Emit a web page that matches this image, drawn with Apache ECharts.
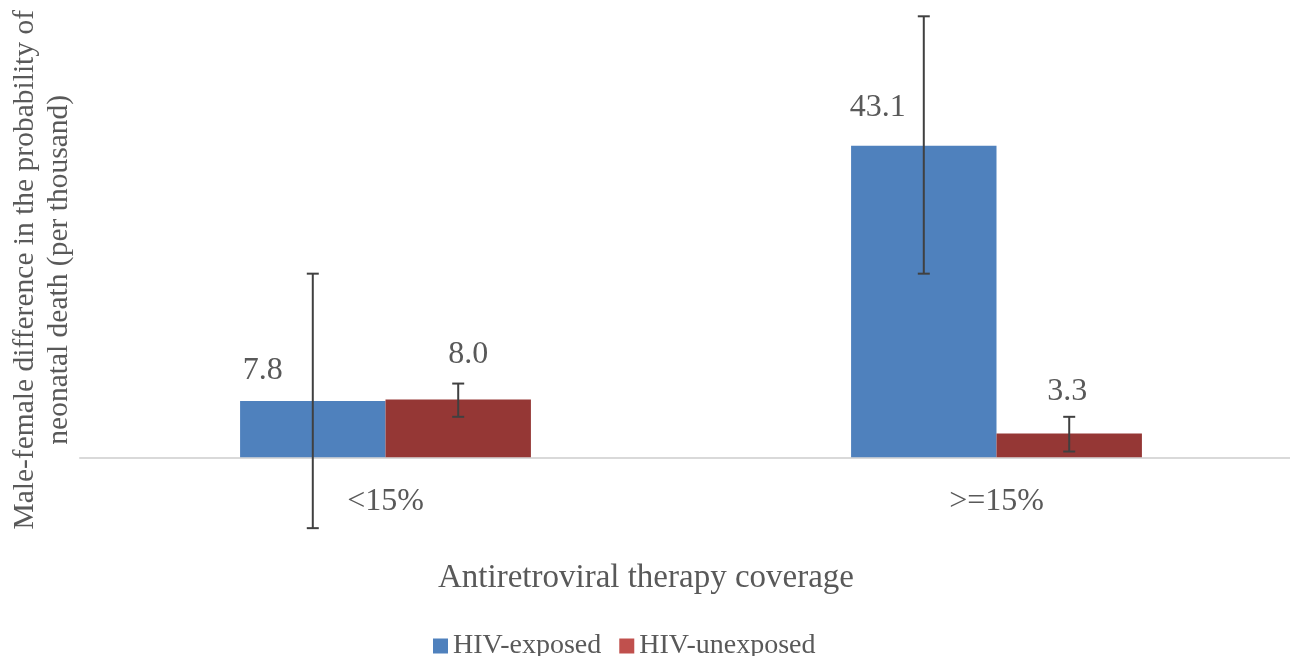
<!DOCTYPE html>
<html>
<head>
<meta charset="utf-8">
<script src="https://cdn.jsdelivr.net/npm/echarts@6/dist/echarts.min.js"></script>
<style>
html,body{margin:0;padding:0;background:#fff;}
#chart{width:1290px;height:656px;}
</style>
</head>
<body>
<div id="chart"></div>
<script>
const categories = ['<15%', '>=15%'];
const seriesNames = ['HIV-exposed', 'HIV-unexposed'];
const exposed = [7.8, 43.1];
const unexposed = [8.0, 3.3];
const exposedLow = [-9.8, 25.4];
const exposedHigh = [25.4, 61.0];
const unexposedLow = [5.6, 0.8];
const unexposedHigh = [10.2, 5.6];

// label style offsets (presentation only)
const exposedLabelOffset = [[-50, -9], [-46, -17]];
const unexposedLabelOffset = [[10, -24], [-2, -21]];

const FONT = '"Liberation Serif", "Times New Roman", serif';
const TXT = '#595959';
const GAP = 0.524;

const chart = echarts.init(document.getElementById('chart'), null, {renderer: 'canvas'});

const errData = [];
categories.forEach((c, i) => {
  errData.push([i, exposedLow[i], exposedHigh[i], 0]);
  errData.push([i, unexposedLow[i], unexposedHigh[i], 1]);
});

function renderErr(params, api) {
  const cat = api.value(0);
  const lo = api.value(1);
  const hi = api.value(2);
  const which = api.value(3);
  const band = api.size([1, 0])[0];
  const barW = band * (1 - GAP) / 2;
  const center = api.coord([cat, 0])[0];
  const x = which === 0 ? center - barW / 2 : center + barW / 2;
  const yLo = api.coord([cat, lo])[1];
  const yHi = api.coord([cat, hi])[1];
  const cap = 6;
  const style = {stroke: '#404040', lineWidth: 2};
  return {
    type: 'group',
    children: [
      {type: 'line', shape: {x1: x, y1: yLo, x2: x, y2: yHi}, style: style},
      {type: 'line', shape: {x1: x - cap, y1: yHi, x2: x + cap, y2: yHi}, style: style},
      {type: 'line', shape: {x1: x - cap, y1: yLo, x2: x + cap, y2: yLo}, style: style}
    ]
  };
}

const option = {
  backgroundColor: '#ffffff',
  animation: false,
  textStyle: {fontFamily: FONT},
  grid: {left: 80, top: 16.3, width: 1222, height: 441, containLabel: false, outerBoundsMode: 'none'},
  legend: {
    data: [
      {name: seriesNames[0], itemStyle: {color: '#4f81bd'}},
      {name: seriesNames[1], itemStyle: {color: '#c0504d'}}
    ],
    left: 428,
    top: 627,
    icon: 'rect',
    itemWidth: 15,
    itemHeight: 15,
    itemGap: 18,
    textStyle: {fontFamily: FONT, fontSize: 28, color: TXT}
  },
  xAxis: {
    type: 'category',
    data: categories,
    axisLine: {onZero: true, lineStyle: {color: '#d9d9d9', width: 2}},
    axisTick: {show: false},
    axisLabel: {margin: 28, fontSize: 32, color: TXT, fontFamily: FONT},
    name: 'Antiretroviral therapy coverage',
    nameLocation: 'middle',
    nameGap: 105,
    nameTextStyle: {fontSize: 33, color: TXT, fontFamily: FONT, padding: [0, 90, 0, 0]}
  },
  yAxis: {
    type: 'value',
    min: 0,
    max: 61,
    axisLine: {show: false},
    axisTick: {show: false},
    axisLabel: {show: false},
    splitLine: {show: false},
    name: 'Male-female difference in the probability of\nneonatal death (per thousand)',
    nameLocation: 'middle',
    nameRotate: 90,
    nameGap: 4,
    nameTextStyle: {fontSize: 29.5, color: TXT, fontFamily: FONT, lineHeight: 34, align: 'center', padding: [0, 66, 0, 0]}
  },
  series: [
    {
      name: seriesNames[0],
      type: 'bar',
      barGap: '0%',
      barCategoryGap: (GAP * 100) + '%',
      itemStyle: {color: '#4f81bd'},
      label: {show: true, position: 'top', fontSize: 32, color: TXT, fontFamily: FONT, formatter: p => p.value.toFixed(1)},
      data: exposed.map((v, i) => ({value: v, label: {offset: exposedLabelOffset[i]}}))
    },
    {
      name: seriesNames[1],
      type: 'bar',
      barGap: '0%',
      barCategoryGap: (GAP * 100) + '%',
      itemStyle: {color: '#953735'},
      label: {show: true, position: 'top', fontSize: 32, color: TXT, fontFamily: FONT, formatter: p => p.value.toFixed(1)},
      data: unexposed.map((v, i) => ({value: v, label: {offset: unexposedLabelOffset[i]}}))
    },
    {
      name: 'errors',
      type: 'custom',
      renderItem: renderErr,
      encode: {x: 0, y: [1, 2]},
      data: errData,
      clip: false,
      z: 10,
      silent: true
    }
  ]
};
chart.setOption(option);
</script>
</body>
</html>
